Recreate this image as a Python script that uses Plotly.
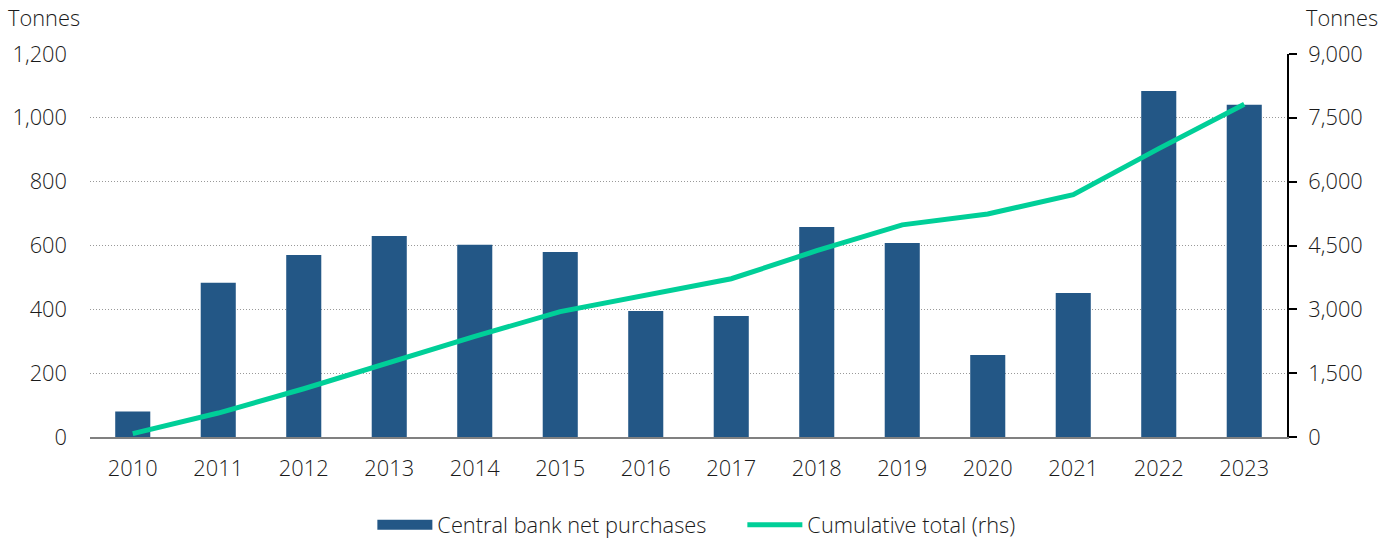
import plotly.graph_objects as go

years = [str(y) for y in range(2010, 2024)]
purchases = [80, 483, 570, 630, 602, 580, 395, 379, 658, 608, 257, 451, 1084, 1041]
cumulative = [80, 563, 1133, 1763, 2365, 2945, 3340, 3719, 4377, 4985, 5242, 5693, 6777, 7818]

bar_col = "#235786"
line_col = "#00CF98"
fnt = dict(family="Open Sans", size=21.8, color="#1a1a1a", weight=300)

fig = go.Figure()
fig.add_trace(go.Bar(
    x=years, y=purchases, name="Central bank net purchases",
    marker=dict(color=bar_col, line=dict(width=0)), width=0.41,
    showlegend=False,
))
# legend-only entry so the bar swatch is a wide block like the original
fig.add_trace(go.Scatter(
    x=[None], y=[None], mode="lines", name="Central bank net purchases",
    line=dict(color=bar_col, width=15),
))
fig.add_trace(go.Scatter(
    x=years, y=cumulative, name="Cumulative total (rhs)", yaxis="y2",
    mode="lines", line=dict(color=line_col, width=5),
))

fig.update_layout(
    width=1397, height=539,
    margin=dict(l=90, r=110, t=54, b=102, autoexpand=False),
    plot_bgcolor="white", paper_bgcolor="white",
    font=fnt,
    xaxis=dict(
        type="category", range=[-0.5, 13.5], showgrid=False, automargin=False,
        showline=True, linecolor="#808080", linewidth=2,
        ticks="", tickfont=fnt, ticklabelstandoff=11,
    ),
    yaxis=dict(
        range=[0, 1200], dtick=200, tickformat=",", showline=False, automargin=False,
        showgrid=True, gridcolor="#999999", griddash="1px,2px", gridwidth=1,
        zeroline=False, tickfont=fnt, ticklabelstandoff=22,
    ),
    yaxis2=dict(
        range=[0, 9000], dtick=1500, tickformat=",", overlaying="y", side="right",
        showgrid=False, zeroline=False, showline=True, linecolor="black", linewidth=2,
        ticks="outside", ticklen=8, tickwidth=2, tickcolor="black", tickfont=fnt,
        ticklabelstandoff=7, automargin=False,
    ),
    legend=dict(
        orientation="h", x=0.545, xanchor="center", y=-0.23, yanchor="middle",
        font=fnt, itemwidth=55, entrywidth=300, tracegroupgap=0,
    ),
    annotations=[
        dict(text="Tonnes", xref="paper", yref="paper", x=-0.0702, y=1.094,
             xanchor="left", yanchor="middle", showarrow=False, font=fnt),
        dict(text="Tonnes", xref="paper", yref="paper", x=1.014, y=1.094,
             xanchor="left", yanchor="middle", showarrow=False, font=fnt),
    ],
)

fig.write_html("out.html", config={"displayModeBar": False},
               post_script="document.body.style.margin='0px';")
